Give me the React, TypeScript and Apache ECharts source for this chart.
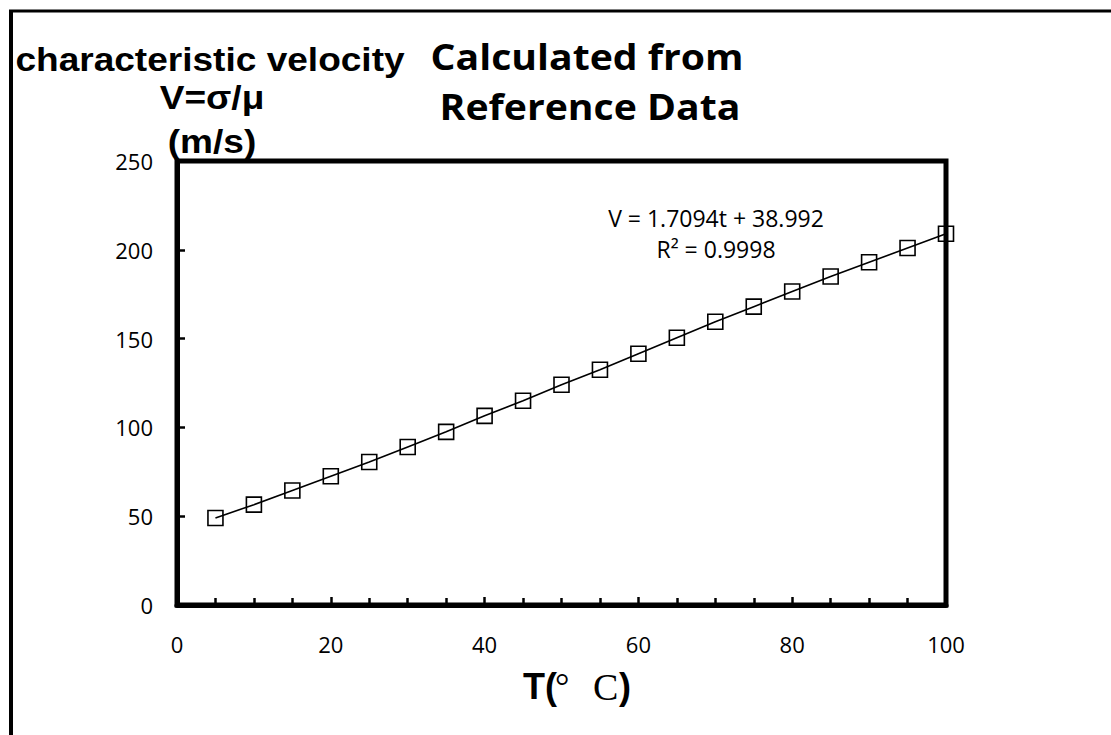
import React, { useEffect, useRef } from "react";
import * as echarts from "echarts";

const temperatures = [5, 10, 15, 20, 25, 30, 35, 40, 45, 50, 55, 60, 65, 70, 75, 80, 85, 90, 95, 100];
const velocities = [49, 56.5, 64.5, 72.5, 80.5, 89, 97.5, 106.5, 115, 124, 132.5, 141.5, 150.5, 159.5, 168, 176.5, 185, 193, 201, 209];
const yTitleLines = ["characteristic velocity", "V=σ/μ", "(m/s)"];
const titleLines = ["Calculated from", "Reference Data"];
const equationLines = ["V = 1.7094t + 38.992", "R² = 0.9998"];

export default function App() {
  const ref = useRef<HTMLDivElement>(null);
  useEffect(() => {
    document.body.style.margin = "0";
    const chart = echarts.init(ref.current!, null, { renderer: "svg" });
    const data = temperatures.map((t, i) => [t, velocities[i]]);
    const yTitleY = [60, 98, 142];
    const yTitleX = [210, 212, 212];
    const titleY = [56, 106];
    const titleX = [587, 590];
    const eqY = [218, 249];
    chart.setOption({
      animation: false,
      backgroundColor: "#fff",
      grid: {
        left: 177,
        top: 161,
        width: 769,
        height: 444,
        show: true,
        borderColor: "#000",
        borderWidth: 5,
      },
      xAxis: {
        type: "value",
        min: 0,
        max: 100,
        interval: 20,
        axisLine: { show: true, lineStyle: { color: "#000", width: 5 } },
        axisTick: { show: true, inside: true, length: 8, lineStyle: { color: "#000", width: 2.5 } },
        minorTick: { show: true, splitNumber: 4, length: 7, lineStyle: { color: "#000", width: 2.5 } },
        splitLine: { show: false },
        axisLabel: { color: "#000", fontFamily: "Open Sans", fontSize: 22, margin: 28 },
      },
      yAxis: {
        type: "value",
        min: 0,
        max: 250,
        interval: 50,
        axisLine: { show: true, lineStyle: { color: "#000", width: 5 } },
        axisTick: { show: true, inside: true, length: 8, lineStyle: { color: "#000", width: 2.5 } },
        splitLine: { show: false },
        axisLabel: { color: "#000", fontFamily: "Open Sans", fontSize: 22, margin: 24 },
      },
      series: [
        {
          type: "line",
          data,
          symbol: "rect",
          symbolSize: 15,
          lineStyle: { color: "#000", width: 1.6 },
          itemStyle: { color: "transparent", borderColor: "#000", borderWidth: 1.6 },
        },
      ],
      graphic: [
        { type: "line", shape: { x1: 9, y1: 11, x2: 1111, y2: 11 }, style: { stroke: "#000", lineWidth: 3 } },
        { type: "line", shape: { x1: 11, y1: 10, x2: 11, y2: 735 }, style: { stroke: "#000", lineWidth: 4 } },
        ...yTitleLines.map((s, i) => ({
          type: "text",
          x: yTitleX[i],
          y: yTitleY[i],
          scaleX: 1.09,
          style: {
            text: s,
            fill: "#000",
            fontSize: 34,
            fontWeight: "bold",
            fontFamily: "Liberation Sans",
            textAlign: "center",
            textVerticalAlign: "middle",
          },
        })),
        ...titleLines.map((s, i) => ({
          type: "text",
          x: titleX[i],
          y: titleY[i],
          scaleX: 1.12,
          style: {
            text: s,
            fill: "#000",
            fontSize: 35,
            fontWeight: "bold",
            fontFamily: "Open Sans",
            textAlign: "center",
            textVerticalAlign: "middle",
          },
        })),
        ...equationLines.map((s, i) => ({
          type: "text",
          x: 716,
          y: eqY[i],
          style: {
            text: s,
            fill: "#000",
            fontSize: 23,
            fontFamily: "Open Sans",
            textAlign: "center",
            textVerticalAlign: "middle",
          },
        })),
        {
          type: "text",
          x: 523,
          y: 686,
          style: { text: "T(", fill: "#000", fontSize: 36, fontWeight: "bold", fontFamily: "Liberation Sans", textAlign: "left", textVerticalAlign: "middle" },
        },
        {
          type: "text",
          x: 555,
          y: 686,
          style: { text: "°", fill: "#000", fontSize: 36, fontFamily: "Liberation Serif", textAlign: "left", textVerticalAlign: "middle" },
        },
        {
          type: "text",
          x: 593,
          y: 687,
          style: { text: "C", fill: "#000", fontSize: 38, fontFamily: "Liberation Serif", textAlign: "left", textVerticalAlign: "middle" },
        },
        {
          type: "text",
          x: 619,
          y: 686,
          style: { text: ")", fill: "#000", fontSize: 36, fontWeight: "bold", fontFamily: "Liberation Sans", textAlign: "left", textVerticalAlign: "middle" },
        },
      ],
    });
    return () => chart.dispose();
  }, []);
  return <div ref={ref} style={{ position: "absolute", left: 0, top: 0, width: 1111, height: 735 }} />;
}
